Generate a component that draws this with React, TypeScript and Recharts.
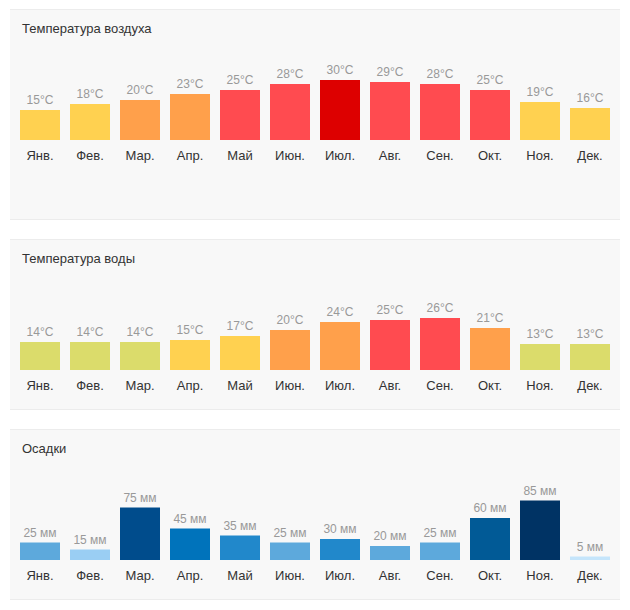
import React from "react";
import { BarChart, Bar, XAxis, YAxis, Cell, LabelList } from "recharts";

const MONTHS = ["Янв.", "Фев.", "Мар.", "Апр.", "Май", "Июн.", "Июл.", "Авг.", "Сен.", "Окт.", "Ноя.", "Дек."];
const AIR_TEMP = [15, 18, 20, 23, 25, 28, 30, 29, 28, 25, 19, 16];
const WATER_TEMP = [14, 14, 14, 15, 17, 20, 24, 25, 26, 21, 13, 13];
const RAIN = [25, 15, 75, 45, 35, 25, 30, 20, 25, 60, 85, 5];

const FONT = '"Liberation Sans", Arial, Helvetica, sans-serif';

function tempColor(v: number) {
  if (v < 15) return "#dbdc6b";
  if (v < 20) return "#ffd150";
  if (v < 25) return "#ffa04b";
  if (v < 30) return "#ff4b50";
  return "#dd0000";
}

function rainColor(v: number) {
  if (v < 10) return "#c5e5fb";
  if (v < 20) return "#9acef3";
  if (v < 30) return "#5da9dc";
  if (v < 40) return "#2188cb";
  if (v < 50) return "#0073bb";
  if (v < 70) return "#015a96";
  if (v < 80) return "#004c8c";
  return "#003364";
}

type PanelProps = {
  title: string;
  values: number[];
  top: number;
  height: number;
  domainMax: number;
  marginTop: number;
  unit: string;
  color: (v: number) => string;
};

function Panel({ title, values, top, height, domainMax, marginTop, unit, color }: PanelProps) {
  const data = MONTHS.map((m, i) => ({ month: m, value: values[i] }));
  const bottom = height - 130 - 30;

  const renderLabel = (p: any) => {
    const cx = Number(p.x) + Number(p.width) / 2;
    const y = Number(p.y) - 6;
    return (
      <text x={cx} y={y} textAnchor="middle" fill="#999" fontSize={12} fontFamily={FONT}>
        {`${p.value}${unit}`}
      </text>
    );
  };

  return (
    <div
      style={{
        position: "absolute",
        left: 10,
        top,
        width: 610,
        height,
        background: "#f8f8f8",
        borderTop: "1px solid #ececec",
        borderBottom: "1px solid #ececec",
      }}
    >
      <div
        style={{
          position: "absolute",
          left: 12,
          top: 12,
          fontSize: 13,
          lineHeight: 1,
          color: "#333",
          fontFamily: FONT,
        }}
      >
        {title}
      </div>
      <BarChart
        width={610}
        height={height}
        data={data}
        margin={{ top: marginTop, right: 5, bottom, left: 5 }}
        style={{ fontFamily: FONT }}
      >
        <XAxis
          dataKey="month"
          axisLine={false}
          tickLine={false}
          height={30}
          interval={0}
          dy={3}
          tick={{ fill: "#333", fontSize: 13 }}
        />
        <YAxis hide domain={[0, domainMax]} />
        <Bar dataKey="value" barSize={40} isAnimationActive={false}>
          {data.map((d) => (
            <Cell key={d.month} fill={color(d.value)} />
          ))}
          <LabelList dataKey="value" content={renderLabel} />
        </Bar>
      </BarChart>
    </div>
  );
}

export default function App() {
  return (
    <div style={{ position: "fixed", left: 0, top: 0, width: 630, height: 610, background: "#fff" }}>
      <Panel title="Температура воздуха" values={AIR_TEMP} top={9} height={209} domainMax={50} marginTop={30} unit="°C" color={tempColor} />
      <Panel title="Температура воды" values={WATER_TEMP} top={239} height={169} domainMax={50} marginTop={30} unit="°C" color={tempColor} />
      <Panel title="Осадки" values={RAIN} top={429} height={169} domainMax={100} marginTop={60} unit=" мм" color={rainColor} />
    </div>
  );
}
